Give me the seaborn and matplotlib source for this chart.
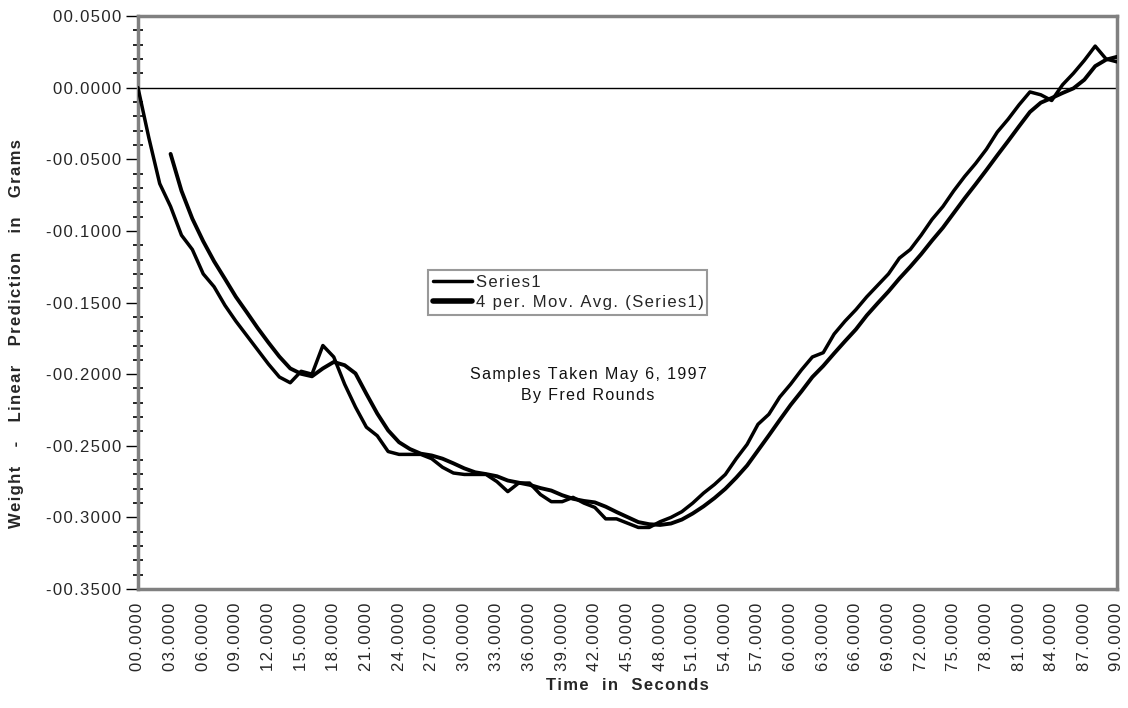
import numpy as np
import pandas as pd
import matplotlib
matplotlib.use("Agg")
import matplotlib.pyplot as plt
import seaborn as sns
from matplotlib.ticker import FixedLocator, MultipleLocator, FuncFormatter

# ---- data ----
time_s = list(range(0, 91))
series1 = [
    0.000, -0.035, -0.067, -0.083, -0.103, -0.113, -0.130, -0.139, -0.152, -0.163,
    -0.173, -0.183, -0.193, -0.202, -0.206, -0.198, -0.200, -0.180, -0.188, -0.207,
    -0.223, -0.237, -0.243, -0.254, -0.256, -0.256, -0.256, -0.259, -0.265, -0.269,
    -0.270, -0.270, -0.270, -0.275, -0.282, -0.276, -0.276, -0.284, -0.289, -0.289,
    -0.286, -0.290, -0.293, -0.301, -0.301, -0.304, -0.307, -0.307, -0.303, -0.300,
    -0.296, -0.290, -0.283, -0.277, -0.270, -0.259, -0.249, -0.235, -0.228, -0.216,
    -0.207, -0.197, -0.188, -0.185, -0.172, -0.163, -0.155, -0.146, -0.138, -0.130,
    -0.119, -0.113, -0.103, -0.092, -0.083, -0.072, -0.062, -0.053, -0.043, -0.031,
    -0.022, -0.012, -0.003, -0.005, -0.009, 0.002, 0.010, 0.019, 0.029, 0.020,
    0.018,
]
ma_window = 4
x_ticks = list(range(0, 91, 3))
series_names = ["Series1", "4 per. Mov. Avg. (Series1)"]
annotation_lines = ["Samples Taken May 6, 1997", "By Fred Rounds"]
x_label = "Time  in  Seconds"
y_label = "Weight   -   Linear   Prediction   in   Grams"

HS = "\u200a"


def spaced(s):
    return HS.join(s)


df = pd.DataFrame({"t": time_s, "v": series1})
df["ma"] = df["v"].rolling(ma_window).mean()

sns.set_theme(style="white")
plt.rcParams["font.family"] = ["Liberation Sans", "DejaVu Sans"]

fig = plt.figure(figsize=(11.28, 7.08), dpi=100)
ax = fig.add_axes([0.1223, 0.168, 0.8679, 0.8094])

sns.lineplot(data=df, x="t", y="v", ax=ax, color="black", lw=2.5,
             label=spaced(series_names[0]), zorder=3)
sns.lineplot(data=df.dropna(), x="t", y="ma", ax=ax, color="black", lw=2.8,
             label=spaced(series_names[1]), zorder=3)

ax.axhline(0, color="black", lw=1.0, zorder=2)

ax.set_xlim(0, 90)
ax.set_ylim(-0.35, 0.05)


def yfmt(v, pos):
    s = format(abs(v), "07.4f")
    return spaced(("-" if v < -1e-9 else "") + s)


ax.yaxis.set_major_locator(MultipleLocator(0.05))
ax.yaxis.set_minor_locator(MultipleLocator(0.01))
ax.yaxis.set_major_formatter(FuncFormatter(yfmt))
ax.xaxis.set_major_locator(FixedLocator(x_ticks))
ax.xaxis.set_major_formatter(FuncFormatter(lambda v, p: spaced(format(v, "07.4f"))))

ax.tick_params(axis="y", which="major", left=True, direction="out", length=9,
               width=1, color="black", labelsize=12, pad=3)
ax.tick_params(axis="y", which="minor", left=True, direction="inout", length=7,
               width=1.2, color="black")
ax.tick_params(axis="x", which="major", bottom=False, labelsize=12,
               labelrotation=90, pad=4)

for sp in ax.spines.values():
    sp.set_color("#808080")
    sp.set_linewidth(2.5)
    sp.set_visible(True)

ax.set_xlabel(spaced(x_label), fontsize=12, fontweight="bold", labelpad=5)
ax.set_ylabel(spaced(y_label), fontsize=12, fontweight="bold")
ax.yaxis.set_label_coords(-0.116, 0.445)

leg = ax.legend(loc="upper left", bbox_to_anchor=(0.2965, 0.4775, 0.2845, 0.08),
                mode="expand", frameon=True, fancybox=False, fontsize=12,
                handlelength=2.3, handletextpad=0.25, borderpad=0.3,
                labelspacing=0.3, borderaxespad=0)
leg.get_frame().set_edgecolor("#808080")
leg.get_frame().set_linewidth(1.5)
leg.get_lines()[0].set_linewidth(2.5)
leg.get_lines()[1].set_linewidth(4)

ax.text(0.4598, 0.388, spaced(annotation_lines[0]) + "\n" + spaced(annotation_lines[1]),
        transform=ax.transAxes, ha="center", va="top",
        fontsize=11.5, linespacing=1.5, color="#111111")

fig.savefig("out.png", dpi=100)
